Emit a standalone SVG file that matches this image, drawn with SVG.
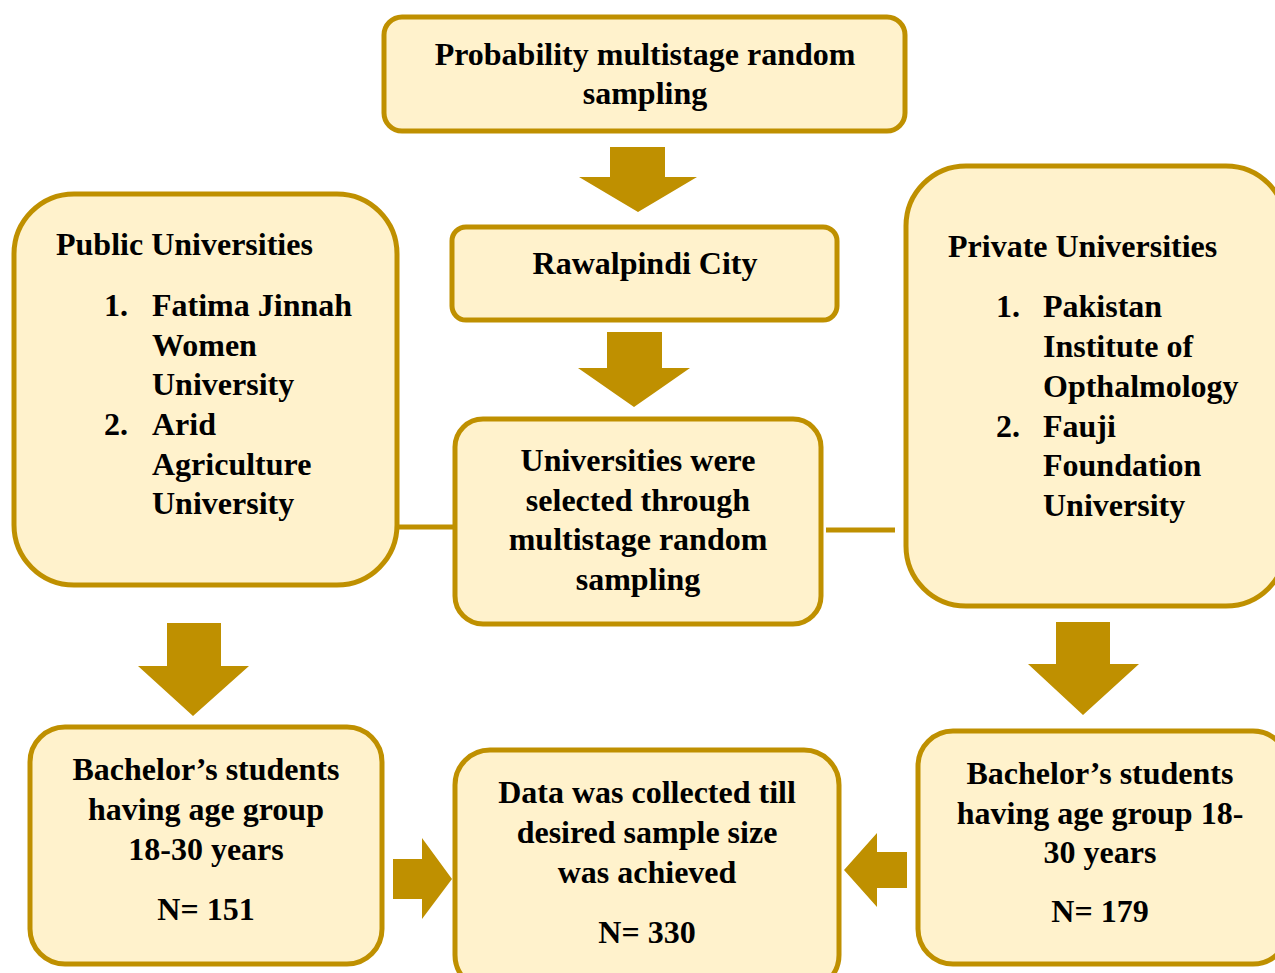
<svg xmlns="http://www.w3.org/2000/svg" width="1275" height="973" viewBox="0 0 1275 973">
<style>
.box{fill:#FFF2CC;stroke:#BF9000;stroke-width:5}
.arr{fill:#BF9000}
.ln{stroke:#BF9000;stroke-width:5;fill:none}
text{font-family:"Liberation Serif","Times New Roman",serif;font-weight:bold;font-size:32px;fill:#000}
.c{text-anchor:middle}
</style>
<rect width="1275" height="973" fill="#FFFFFF"/>
<g id="connectors">
<line class="ln" x1="398" y1="527" x2="455" y2="527"/>
<line class="ln" x1="826" y1="530" x2="895" y2="530"/>
<polygon class="arr" points="610,147 665,147 665,177 697,177 638,212 579,177 610,177"/>
<polygon class="arr" points="607,332 662,332 662,368 690,368 634,407 578,368 607,368"/>
<polygon class="arr" points="167,623 221,623 221,666 249,666 193,716 138,666 167,666"/>
<polygon class="arr" points="1056,622 1110,622 1110,664 1139,664 1083,715 1028,664 1056,664"/>
<polygon class="arr" points="393,859 422,859 422,838 452,879 422,919 422,899 393,899"/>
<polygon class="arr" points="907,852 877,852 877,833 844,870 877,907 877,888 907,888"/>
</g>
<g id="node-top">
<rect class="box" x="384" y="17" width="521" height="114" rx="18"/>
<text class="c" x="645" y="65">Probability multistage random</text>
<text class="c" x="645" y="104">sampling</text>
</g>
<g id="node-city">
<rect class="box" x="452" y="227" width="385" height="93" rx="14"/>
<text class="c" x="645" y="274">Rawalpindi City</text>
</g>
<g id="node-selected">
<rect class="box" x="455" y="419" width="366" height="205" rx="28"/>
<text class="c" x="638" y="471">Universities were</text>
<text class="c" x="638" y="511">selected through</text>
<text class="c" x="638" y="550">multistage random</text>
<text class="c" x="638" y="590">sampling</text>
</g>
<g id="node-public">
<rect class="box" x="14" y="194" width="383" height="391" rx="60"/>
<text x="56" y="255">Public Universities</text>
<text x="104" y="316">1.</text>
<text x="152" y="316">Fatima Jinnah</text>
<text x="152" y="356">Women</text>
<text x="152" y="395">University</text>
<text x="104" y="435">2.</text>
<text x="152" y="435">Arid</text>
<text x="152" y="475">Agriculture</text>
<text x="152" y="514">University</text>
</g>
<g id="node-private">
<rect class="box" x="906" y="166" width="380" height="440" rx="60"/>
<text x="948" y="257">Private Universities</text>
<text x="996" y="317">1.</text>
<text x="1043" y="317">Pakistan</text>
<text x="1043" y="357">Institute of</text>
<text x="1043" y="397">Opthalmology</text>
<text x="996" y="437">2.</text>
<text x="1043" y="437">Fauji</text>
<text x="1043" y="476">Foundation</text>
<text x="1043" y="516">University</text>
</g>
<g id="node-bach-public">
<rect class="box" x="30" y="727" width="352" height="237" rx="35"/>
<text class="c" x="206" y="780">Bachelor’s students</text>
<text class="c" x="206" y="820">having age group</text>
<text class="c" x="206" y="860">18-30 years</text>
<text class="c" x="206" y="920">N= 151</text>
</g>
<g id="node-data">
<rect class="box" x="455" y="750" width="384" height="240" rx="35"/>
<text class="c" x="647" y="803">Data was collected till</text>
<text class="c" x="647" y="843">desired sample size</text>
<text class="c" x="647" y="883">was achieved</text>
<text class="c" x="647" y="943">N= 330</text>
</g>
<g id="node-bach-private">
<rect class="box" x="918" y="731" width="370" height="233" rx="35"/>
<text class="c" x="1100" y="784">Bachelor’s students</text>
<text class="c" x="1100" y="824">having age group 18-</text>
<text class="c" x="1100" y="863">30 years</text>
<text class="c" x="1100" y="922">N= 179</text>
</g>
</svg>
